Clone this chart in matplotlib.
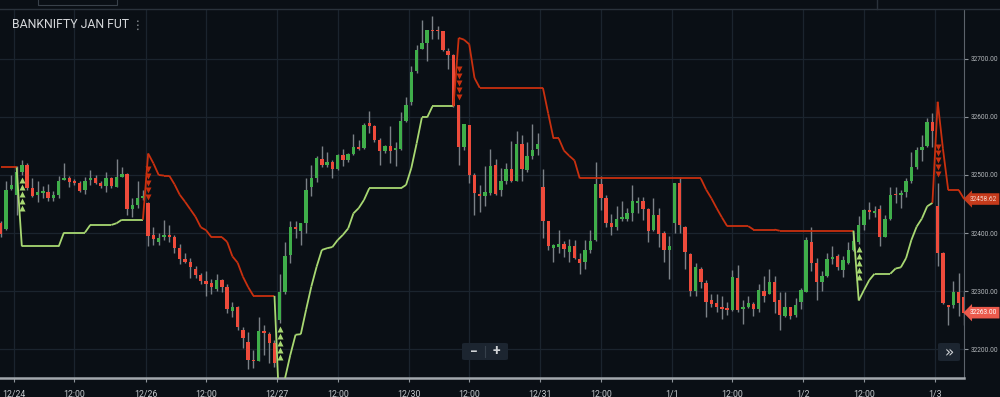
import numpy as np
import matplotlib.pyplot as plt
from matplotlib.collections import LineCollection
from matplotlib.patches import FancyBboxPatch, Rectangle
from matplotlib.transforms import blended_transform_factory

plt.rcParams['font.family'] = ['Roboto', 'DejaVu Sans']

# 15 minute bars, bar -1 is the last visible bar of the previous session
first_bar = -1
opens = [32418, 32407, 32476, 32465, 32505, 32517, 32477, 32466, 32469, 32471, 32460,
         32466, 32492, 32495, 32489, 32486, 32474, 32491, 32494, 32487, 32481,
         32495, 32480, 32496, 32502, 32442, 32448, 32460, 32451, 32397, 32385,
         32394, 32396, 32394, 32375, 32355, 32350, 32338, 32327, 32318, 32314,
         32303, 32320, 32307, 32266, 32273, 32234, 32213, 32182, 32180, 32231,
         32226, 32210, 32250, 32299, 32362, 32410, 32404, 32417, 32480, 32494,
         32528, 32517, 32523, 32510, 32534, 32525, 32536, 32548, 32546, 32589,
         32584, 32560, 32542, 32550, 32543, 32544, 32593, 32625, 32679, 32717,
         32728, 32750, 32750, 32747, 32713, 32707, 32621, 32549, 32586, 32500,
         32467, 32464, 32469, 32517, 32475, 32490, 32510, 32489, 32553, 32509,
         32533, 32544, 32479, 32420, 32375, 32376, 32381, 32368, 32378, 32356,
         32351, 32371, 32388, 32485, 32461, 32417, 32410, 32425, 32425, 32434,
         32452, 32455, 32441, 32405, 32431, 32400, 32371, 32418, 32487, 32410,
         32364, 32300, 32339, 32314, 32285, 32279, 32273, 32271, 32268, 32323,
         32270, 32272, 32278, 32269, 32301, 32296, 32316, 32284, 32257, 32272,
         32259, 32282, 32299, 32385, 32348, 32315, 32326, 32355, 32361, 32337,
         32348, 32371, 32385, 32414, 32440, 32435, 32441, 32394, 32424, 32467,
         32466, 32471, 32489, 32513, 32543, 32550, 32592, 32447, 32365, 32276,
         32276, 32299, 32290]
highs = [32421, 32489, 32500, 32516, 32525, 32520, 32494, 32490, 32481, 32484, 32472,
         32499, 32520, 32498, 32493, 32489, 32497, 32509, 32500, 32490, 32505,
         32497, 32528, 32514, 32504, 32460, 32489, 32474, 32454, 32411, 32401,
         32423, 32414, 32397, 32382, 32365, 32357, 32343, 32332, 32334, 32321,
         32330, 32321, 32312, 32282, 32275, 32239, 32230, 32199, 32255, 32242,
         32230, 32216, 32330, 32385, 32421, 32420, 32418, 32494, 32517, 32532,
         32550, 32539, 32526, 32536, 32544, 32537, 32571, 32560, 32589, 32611,
         32586, 32563, 32552, 32584, 32557, 32609, 32634, 32687, 32724, 32766,
         32750, 32774, 32757, 32748, 32718, 32709, 32621, 32587, 32586, 32504,
         32483, 32516, 32544, 32527, 32512, 32521, 32559, 32575, 32569, 32556,
         32588, 32572, 32510, 32421, 32382, 32405, 32387, 32389, 32388, 32365,
         32388, 32405, 32523, 32498, 32466, 32433, 32447, 32456, 32444, 32483,
         32462, 32462, 32443, 32461, 32443, 32403, 32395, 32487, 32497, 32412,
         32365, 32348, 32341, 32319, 32296, 32296, 32291, 32282, 32337, 32345,
         32285, 32291, 32282, 32312, 32326, 32339, 32326, 32299, 32299, 32273,
         32288, 32305, 32394, 32410, 32357, 32334, 32366, 32377, 32364, 32361,
         32385, 32405, 32430, 32441, 32454, 32447, 32448, 32431, 32480, 32480,
         32475, 32494, 32540, 32549, 32569, 32598, 32606, 32487, 32368, 32276,
         32318, 32332, 32300]
lows = [32393, 32405, 32475, 32431, 32500, 32474, 32462, 32454, 32461, 32456, 32456,
        32461, 32491, 32480, 32483, 32471, 32468, 32483, 32485, 32477, 32471,
        32477, 32479, 32496, 32431, 32428, 32444, 32457, 32378, 32380, 32380,
        32388, 32385, 32366, 32346, 32348, 32322, 32322, 32312, 32291, 32295,
        32301, 32299, 32262, 32255, 32234, 32202, 32166, 32167, 32180, 32190,
        32177, 32169, 32245, 32296, 32349, 32391, 32380, 32400, 32463, 32488,
        32514, 32514, 32494, 32509, 32516, 32523, 32534, 32543, 32544, 32572,
        32557, 32517, 32537, 32521, 32516, 32543, 32592, 32621, 32676, 32717,
        32697, 32734, 32734, 32714, 32682, 32617, 32517, 32543, 32486, 32431,
        32437, 32447, 32466, 32466, 32464, 32484, 32488, 32489, 32489, 32506,
        32527, 32535, 32391, 32371, 32351, 32366, 32358, 32351, 32355, 32329,
        32338, 32366, 32387, 32440, 32411, 32397, 32405, 32420, 32420, 32421,
        32434, 32423, 32385, 32403, 32376, 32351, 32321, 32401, 32401, 32339,
        32292, 32292, 32305, 32255, 32273, 32265, 32252, 32259, 32266, 32265,
        32244, 32271, 32257, 32265, 32282, 32295, 32262, 32233, 32256, 32252,
        32256, 32270, 32299, 32334, 32284, 32301, 32324, 32347, 32337, 32325,
        32347, 32370, 32382, 32405, 32425, 32428, 32377, 32393, 32423, 32451,
        32443, 32462, 32487, 32510, 32524, 32549, 32549, 32343, 32278, 32242,
        32271, 32257, 32241]
closes = [32398, 32475, 32483, 32506, 32517, 32477, 32464, 32471, 32472, 32460, 32466,
          32490, 32494, 32488, 32486, 32473, 32490, 32494, 32486, 32481, 32495,
          32481, 32497, 32502, 32442, 32449, 32461, 32463, 32395, 32390, 32392,
          32396, 32393, 32375, 32356, 32350, 32341, 32327, 32318, 32312, 32308,
          32319, 32308, 32269, 32273, 32238, 32220, 32182, 32179, 32231, 32228,
          32210, 32176, 32299, 32361, 32411, 32407, 32418, 32474, 32495, 32529,
          32518, 32523, 32510, 32534, 32526, 32536, 32548, 32545, 32586, 32584,
          32560, 32542, 32550, 32542, 32546, 32593, 32621, 32678, 32716, 32728,
          32750, 32747, 32747, 32715, 32707, 32619, 32549, 32587, 32500, 32469,
          32464, 32470, 32516, 32467, 32490, 32510, 32490, 32553, 32510, 32532,
          32543, 32553, 32421, 32377, 32379, 32381, 32372, 32378, 32357, 32348,
          32371, 32387, 32485, 32461, 32417, 32410, 32425, 32427, 32434, 32455,
          32456, 32441, 32404, 32431, 32398, 32371, 32378, 32487, 32414, 32368,
          32300, 32341, 32315, 32282, 32278, 32273, 32270, 32268, 32324, 32267,
          32272, 32279, 32269, 32302, 32292, 32316, 32282, 32259, 32272, 32257,
          32276, 32302, 32388, 32348, 32315, 32326, 32355, 32358, 32341, 32353,
          32371, 32387, 32414, 32440, 32436, 32437, 32393, 32424, 32466, 32465,
          32469, 32490, 32513, 32543, 32549, 32592, 32576, 32365, 32280, 32273,
          32299, 32279, 32263]
# trailing stop line
trail = [32513, 32513, 32513, 32513, 32377, 32377, 32377, 32377, 32377, 32377, 32377,
         32377, 32401, 32401, 32401, 32401, 32401, 32414, 32414, 32414, 32414,
         32414, 32417, 32423, 32423, 32423, 32423, 32423, 32537, 32520, 32500,
         32499, 32499, 32484, 32466, 32454, 32441, 32428, 32410, 32405, 32393,
         32393, 32393, 32385, 32360, 32349, 32325, 32307, 32292, 32292, 32292,
         32292, 32292, 32080, 32150, 32190, 32225, 32226, 32268, 32308, 32342,
         32371, 32374, 32376, 32388, 32397, 32408, 32434, 32443, 32457, 32477,
         32477, 32477, 32477, 32477, 32477, 32477, 32483, 32512, 32554, 32599,
         32599, 32618, 32618, 32618, 32618, 32618, 32736, 32733, 32725, 32667,
         32650, 32650, 32650, 32650, 32650, 32650, 32650, 32650, 32650, 32650,
         32650, 32650, 32650, 32606, 32563, 32563, 32542, 32533, 32525, 32494,
         32494, 32494, 32494, 32494, 32494, 32494, 32494, 32494, 32494, 32494,
         32494, 32494, 32494, 32494, 32494, 32494, 32494, 32494, 32494, 32494,
         32494, 32494, 32494, 32475, 32460, 32443, 32427, 32412, 32412, 32412,
         32412, 32412, 32406, 32406, 32406, 32406, 32406, 32404, 32404, 32404,
         32404, 32404, 32404, 32404, 32404, 32404, 32404, 32404, 32404, 32404,
         32404, 32404, 32284, 32302, 32319, 32330, 32330, 32330, 32330, 32339,
         32341, 32357, 32388, 32411, 32425, 32446, 32452, 32626, 32545, 32474,
         32474, 32474, 32459]

day_labels = ['12/24', '12/26', '12/27', '12/30', '12/31', '1/1', '1/2', '1/3']
day_first_bar = 2
bars_per_day = 25
noon_offset = 11

buy_bars = [3, 52, 162]
buy_marks = [32443, 32187, 32325]
sell_bars = [27, 86, 177]
sell_marks = [32510, 32682, 32549]

last_trail = 32458.62
last_close = 32263.00

BG = '#0a0f15'
GRID = '#1b242e'
GREEN = '#3fae4a'
RED = '#ee4b3b'
WICK = '#7b8187'
TR_RED = '#c9300f'
TR_GREEN = '#a8d872'
TXT = '#c3c7cb'

fig = plt.figure(figsize=(10, 3.97), dpi=100, facecolor=BG)
ax = fig.add_axes([0, 0.0466, 0.964, 0.9282])
ax.set_facecolor(BG)

x = np.arange(first_bar, first_bar + len(opens))
o, h, l, c = (np.array(v, dtype=float) for v in (opens, highs, lows, closes))
up = c >= o

ax.vlines(x, l, h, color=WICK, lw=1, zorder=2)
ax.bar(x, np.maximum(np.abs(c - o), 2.5), bottom=np.minimum(o, c), width=0.64,
       color=[GREEN if u else RED for u in up], linewidth=0, zorder=3)

# trend direction from signals
direction = np.full(len(trail), -1)
for bar, d in sorted([(b, 1) for b in buy_bars] + [(b, -1) for b in sell_bars]):
    direction[x >= bar] = d
t = np.array(trail, dtype=float)
segs = [[(x[i - 1], t[i - 1]), (x[i], t[i])] for i in range(1, len(t))]
cols = [TR_GREEN if direction[i] > 0 else TR_RED for i in range(1, len(t))]
ax.add_collection(LineCollection(segs, colors=cols, linewidths=1.3, zorder=4))

for b, m in zip(buy_bars, buy_marks):
    ax.plot([b] * 5, m + np.arange(5) * 12, '^', color=TR_GREEN, ms=4, mec='none', zorder=5)
for b, m in zip(sell_bars, sell_marks):
    ax.plot([b] * 5, m - np.arange(5) * 12, 'v', color=TR_RED, ms=4, mec='none', zorder=5)

ax.set_xlim(-1.15, 182)
ax.set_ylim(32149.7, 32784)

ticks, labels = [], []
for i, lab in enumerate(day_labels):
    start = day_first_bar + i * bars_per_day
    ticks.append(start - 0.5)
    labels.append(lab)
    if start + noon_offset < 182:
        ticks.append(start + noon_offset)
        labels.append('12:00')
ax.set_xticks(ticks)
ax.set_xticklabels(labels)

yt = np.arange(32200, 32701, 100)
ax.yaxis.tick_right()
ax.set_yticks(yt)
ax.set_yticklabels([f'{v:.2f}' for v in yt])

ax.tick_params(axis='x', colors='#8d9399', labelcolor=TXT, labelsize=6.3, length=3, pad=5)
ax.tick_params(axis='y', colors='#8d9399', labelcolor='#b4b8bc', labelsize=4.7, length=3, pad=1.5)
ax.grid(True, color=GRID, lw=0.9, zorder=0)
ax.set_axisbelow(True)
for s in ('top', 'left'):
    ax.spines[s].set_visible(False)
ax.spines['right'].set_color('#5c636b')
ax.spines['bottom'].set_color('#a3a8ad')
ax.spines['bottom'].set_linewidth(1.8)

# price labels on the right axis
tr = blended_transform_factory(ax.transAxes, ax.transData)
ax.text(1.006, last_trail, f'{last_trail:.2f}', transform=tr, ha='left', va='center',
        fontsize=4.7, color='#f3d6cc', clip_on=False, zorder=6,
        bbox=dict(boxstyle='larrow,pad=0.35', fc='#c53a1b', ec='none'))
ax.text(1.006, last_close, f'{last_close:.2f}', transform=tr, ha='left', va='center',
        fontsize=4.7, color='white', clip_on=False, zorder=6,
        bbox=dict(boxstyle='larrow,pad=0.35', fc='#ec5a4c', ec='none'))

# header strip
fig.add_artist(plt.Line2D([0, 1], [1 - 9 / 397, 1 - 9 / 397], color='#2a323b', lw=1))
fig.add_artist(Rectangle((38 / 1000, 1 - 5 / 397), 79 / 1000, 8 / 397, fill=False,
                         ec='#39414a', lw=0.8, transform=fig.transFigure))
fig.add_artist(plt.Line2D([877 / 1000, 877 / 1000], [1 - 9 / 397, 1], color='#2a323b', lw=1))

fig.text(12 / 1000, 1 - 25 / 397, 'BANKNIFTY JAN FUT', ha='left', va='center',
         fontsize=8.8, color='#d6d8db')
fig.text(138 / 1000, 1 - 25 / 397, '⋮', ha='center', va='center', fontsize=8.5,
         color='#9ca1a6', family=['DejaVu Sans'])

# zoom buttons
fig.add_artist(FancyBboxPatch((462 / 1000, 1 - 360 / 397), 46 / 1000, 17 / 397,
                              boxstyle='round,pad=0,rounding_size=0.003',
                              transform=fig.transFigure, fc='#1c2530', ec='none'))
fig.add_artist(plt.Line2D([485 / 1000, 485 / 1000], [1 - 357 / 397, 1 - 346 / 397],
                          color='#36404b', lw=0.8))
fig.text(474 / 1000, 1 - 351.5 / 397, '−', ha='center', va='center', fontsize=10,
         color='#d0d3d6', weight='bold')
fig.text(496 / 1000, 1 - 351.5 / 397, '+', ha='center', va='center', fontsize=10,
         color='#d0d3d6', weight='bold')
fig.add_artist(FancyBboxPatch((938 / 1000, 1 - 361 / 397), 22 / 1000, 18 / 397,
                              boxstyle='round,pad=0,rounding_size=0.003',
                              transform=fig.transFigure, fc='#1c2530', ec='none'))
fig.text(949 / 1000, 1 - 352.5 / 397, '»', ha='center', va='center', fontsize=11,
         color='#d0d3d6', family=['DejaVu Sans'])

fig.savefig('out.png', dpi=100, facecolor=BG)
